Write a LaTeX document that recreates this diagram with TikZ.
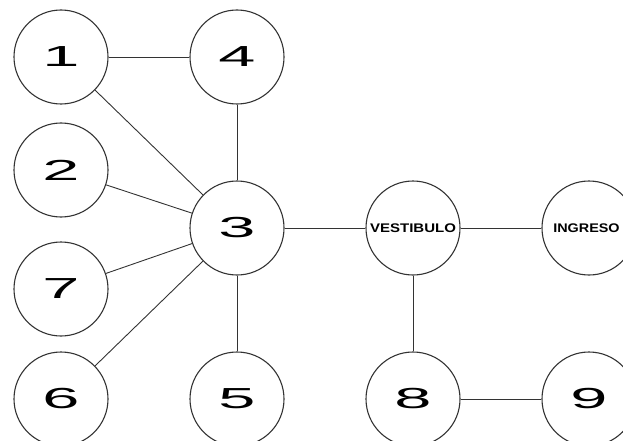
\documentclass[tikz,border=0pt]{standalone}
\usepackage{fontspec}
\setmainfont{Liberation Sans}
\begin{document}
\begin{tikzpicture}[x=1pt,y=-1pt,
  room/.style={circle,draw=black!80,line width=1.1pt,minimum size=94pt,inner sep=0pt,fill=white},
  num/.style={room,font=\fontsize{29}{29}\selectfont},
  word/.style={room,font=\fontsize{12.5}{12.5}\selectfont\bfseries},
  link/.style={draw=black!80,line width=0.9pt}]
\useasboundingbox (0,0) rectangle (623,441);
\node[num] (n1) at (61,57) {\scalebox{2.3}[1]{1}};
\node[num] (n4) at (237,57) {\scalebox{2.3}[1]{4}};
\node[num] (n2) at (61,170) {\scalebox{2.3}[1]{2}};
\node[num] (n3) at (237,228) {\scalebox{2.3}[1]{3}};
\node[num] (n7) at (61,289) {\scalebox{2.3}[1]{7}};
\node[num] (n6) at (61,399) {\scalebox{2.3}[1]{6}};
\node[num] (n5) at (237,399) {\scalebox{2.3}[1]{5}};
\node[word] (v) at (413,228) {\scalebox{1.2}[1]{VESTIBULO}};
\node[word] (ing) at (589,228) {\hspace*{-5pt}\scalebox{1.15}[1]{INGRESO}};
\node[num] (n8) at (413,399) {\scalebox{2.3}[1]{8}};
\node[num] (n9) at (589,399) {\scalebox{2.3}[1]{9}};
\draw[link] (n1) -- (n4);
\draw[link] (n4) -- (n3);
\draw[link] (n1) -- (n3);
\draw[link] (n2) -- (n3);
\draw[link] (n7) -- (n3);
\draw[link] (n6) -- (n3);
\draw[link] (n5) -- (n3);
\draw[link] (n3) -- (v);
\draw[link] (v) -- (ing);
\draw[link] (v) -- (n8);
\draw[link] (n8) -- (n9);
\end{tikzpicture}
\end{document}
